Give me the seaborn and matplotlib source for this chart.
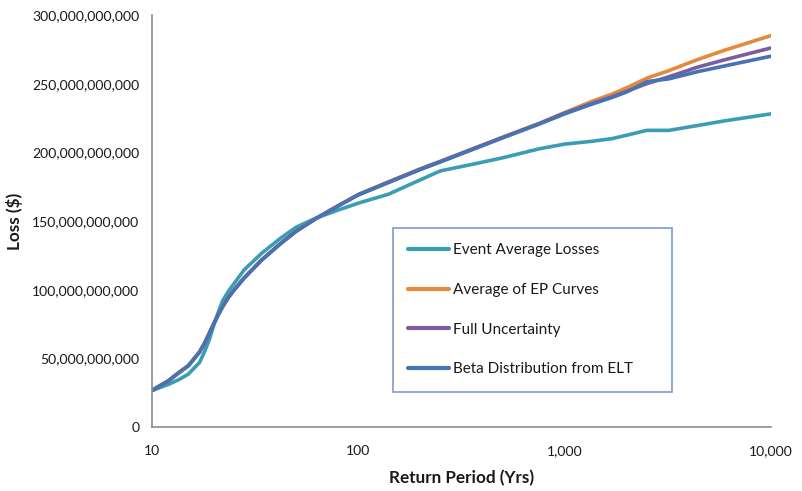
import matplotlib
matplotlib.use("Agg")
import matplotlib.pyplot as plt
import matplotlib.ticker as mticker
from matplotlib.lines import Line2D
import seaborn as sns
import pandas as pd

# Return periods (years) at which the curves are sampled
return_period = [10, 12, 13.5, 15, 17, 18, 19, 20, 21, 22, 23.5, 25, 28, 34, 42, 50,
                 62, 80, 100, 140, 200, 250, 350, 500, 750, 1000, 1350, 1700, 2000,
                 2500, 3200, 4400, 6000, 10000]

# Losses in billions of dollars
event_average_losses = [26.5, 31, 34.5, 38.5, 47, 55, 64, 75, 84, 92, 99, 104.5,
                        114.5, 126.5, 137.5, 145.5, 152, 158, 163, 169.5, 180, 186.5,
                        191, 196, 202.5, 206, 208, 210, 212.5, 216, 216, 219.5, 223,
                        228]
average_of_ep_curves = [26.8, 33.8, 39.8, 44.8, 54.8, 61.3, 68.8, 75.8, 82.3, 87.9,
                        94.8, 100, 108.8, 121.8, 133.8, 142.8, 151.8, 161.3, 169.3,
                        178.5, 188, 193.5, 202, 211, 221, 229, 237, 242.5, 247, 254,
                        259.5, 267.5, 274.5, 285]
full_uncertainty = [26.6, 33.6, 39.6, 44.6, 54.6, 61.1, 68.6, 75.6, 82.1, 87.7,
                    94.6, 99.8, 108.6, 121.6, 133.6, 142.6, 151.6, 161.1, 169.2,
                    178.3, 187.8, 193.3, 201.8, 210.8, 220.8, 228.5, 235.5, 240.5,
                    244.5, 250, 255, 262, 267.5, 276]
beta_distribution_elt = [26.5, 33.5, 39.5, 44.5, 54.5, 61, 68.5, 75.5, 82, 87.6,
                         94.5, 99.7, 108.5, 121.5, 133.5, 142.5, 151.5, 161, 169,
                         178, 187.5, 193, 201.5, 210.5, 220.5, 228, 235, 240, 244,
                         251.5, 253.5, 258.7, 263, 270]

series_names = ["Event Average Losses", "Average of EP Curves",
                "Full Uncertainty", "Beta Distribution from ELT"]
series_values = [event_average_losses, average_of_ep_curves,
                 full_uncertainty, beta_distribution_elt]
series_colors = ["#3B9DB3", "#E8883A", "#7B5C9E", "#4673B3"]

x_ticks = [10, 100, 1000, 10000]
y_ticks = [0, 50e9, 100e9, 150e9, 200e9, 250e9, 300e9]

frames = []
for name, vals in zip(series_names, series_values):
    frames.append(pd.DataFrame({"Return Period": return_period,
                                "Loss": [v * 1e9 for v in vals],
                                "Series": name}))
df = pd.concat(frames, ignore_index=True)

sns.set_style("white")
plt.rcParams["font.family"] = ["Lato", "DejaVu Sans"]

fig = plt.figure(figsize=(8.02, 4.91), dpi=100)
ax = fig.add_axes([152 / 802, 1 - 427 / 491, (771 - 152) / 802, (427 - 15) / 491])

sns.lineplot(data=df, x="Return Period", y="Loss", hue="Series",
             hue_order=series_names, palette=series_colors, linewidth=2.6,
             ax=ax, legend=False, sort=True, estimator=None)
for line in ax.get_lines():
    line.set_solid_joinstyle("round")
    line.set_solid_capstyle("round")

ax.set_xscale("log")
ax.set_xlim(10, 10000)
ax.set_ylim(0, 300e9)
ax.set_xticks(x_ticks)
ax.xaxis.set_minor_locator(mticker.NullLocator())
ax.xaxis.set_major_formatter(mticker.FuncFormatter(lambda v, p: f"{v:,.0f}"))
ax.set_yticks(y_ticks)
ax.yaxis.set_major_formatter(mticker.FuncFormatter(lambda v, p: f"{v:,.0f}"))

for side in ("top", "right"):
    ax.spines[side].set_visible(False)
for side in ("left", "bottom"):
    ax.spines[side].set_color("#8C8C8C")
    ax.spines[side].set_linewidth(1.2)
ax.tick_params(axis="both", which="major", direction="out", length=5, width=1.2,
               color="#8C8C8C", labelsize=10.1, labelcolor="#1A1A1A", pad=4)
ax.tick_params(axis="x", pad=8)

ax.set_xlabel("Return Period (Yrs)", fontsize=12.3, fontweight="bold",
              color="#1A1A1A", labelpad=9)
ax.set_ylabel("Loss ($)", fontsize=12.3, fontweight="bold", color="#1A1A1A",
              labelpad=7)

handles = [Line2D([], [], color=c, linewidth=3) for c in series_colors]
leg = ax.legend(handles, series_names, loc="upper left",
                bbox_to_anchor=(393 / 802, 1 - 228 / 491 - 0.2, (672 - 393) / 802, 0.2),
                bbox_transform=fig.transFigure, mode="expand", fontsize=11,
                frameon=True, fancybox=False, borderpad=1.0,
                labelspacing=1.68, handlelength=2.66, handletextpad=0.26,
                borderaxespad=0)
leg.get_frame().set_edgecolor("#5B82C0")
leg.get_frame().set_linewidth(1.2)
for t in leg.get_texts():
    t.set_color("#1A1A1A")

fig.savefig("out.png", dpi=100)
